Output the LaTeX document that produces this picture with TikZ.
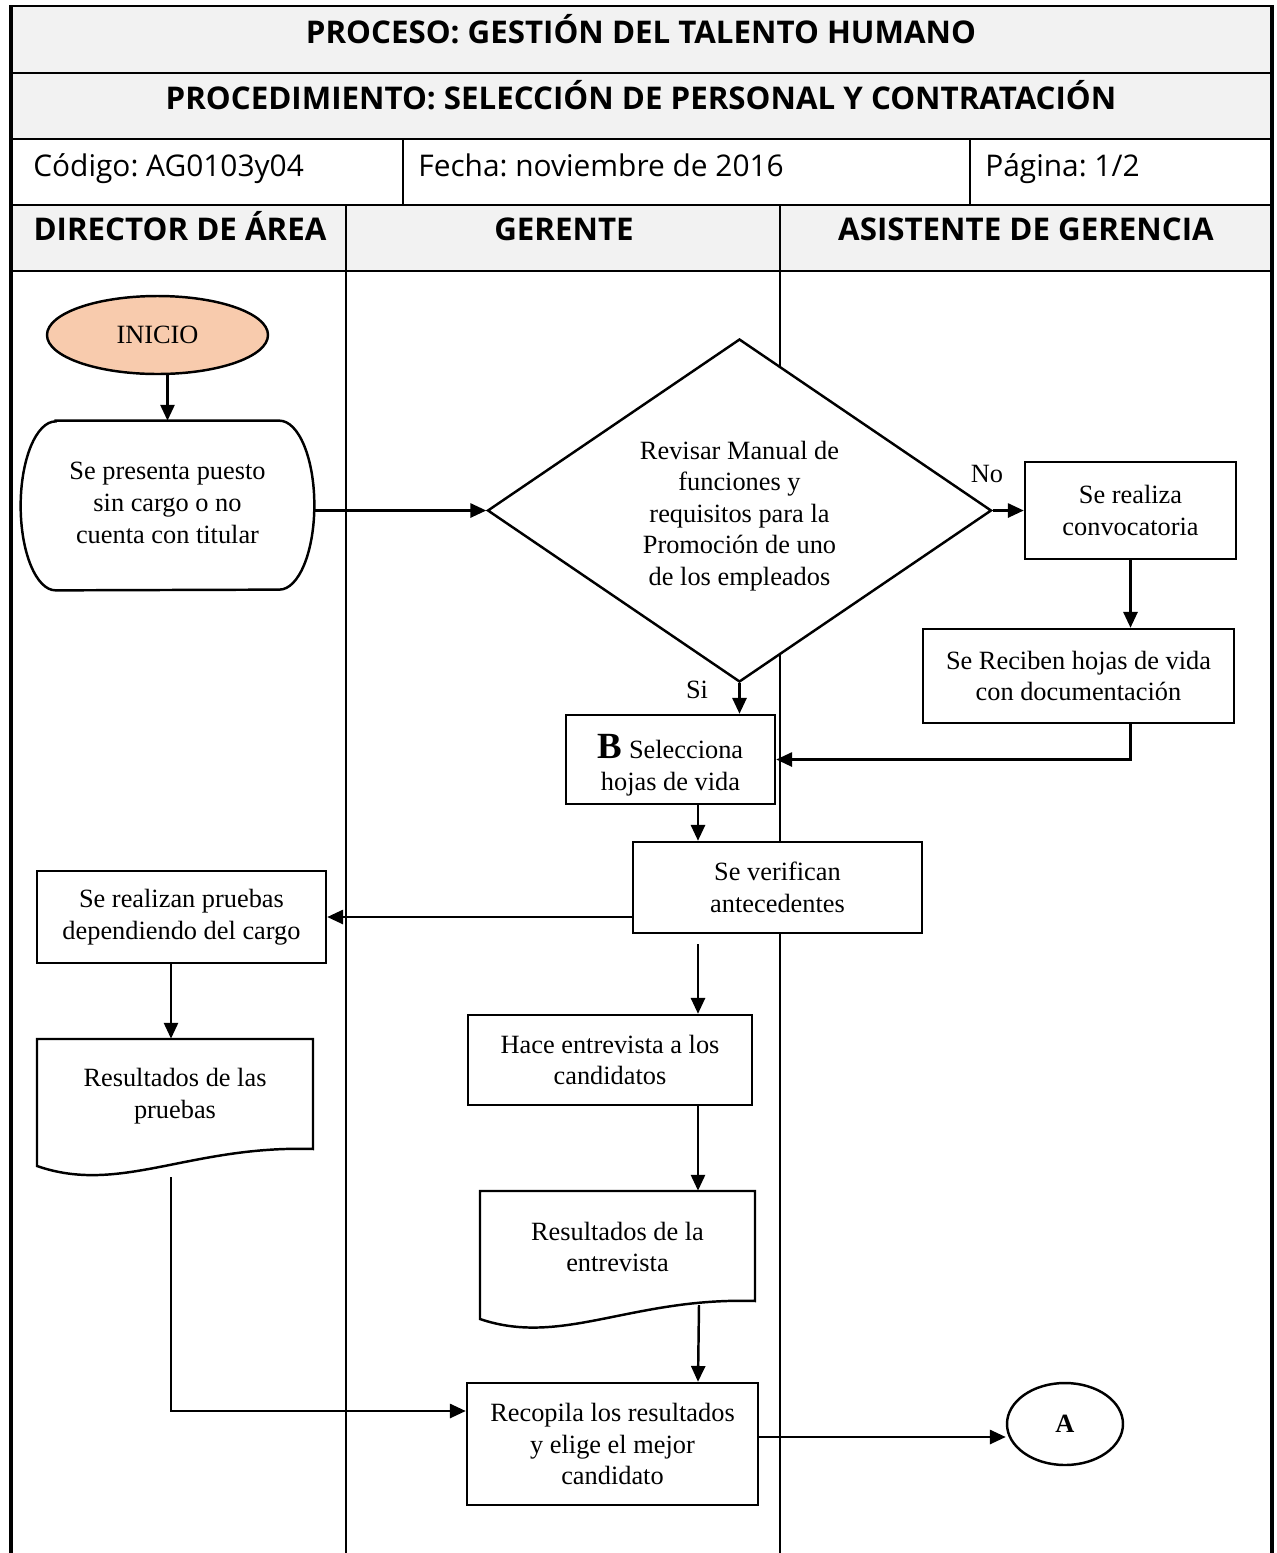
\documentclass[tikz,border=0pt]{standalone}
\usepackage{fontspec}
\setmainfont{Liberation Serif}
\newfontfamily\hdrfont{Open Sans}
\usetikzlibrary{shapes.geometric,arrows.meta,calc}
\definecolor{hdrgray}{HTML}{F2F2F2}
\definecolor{peach}{HTML}{F8CBAD}
\newcommand\pxl{0.02cm}
\frenchspacing

\begin{document}
\begin{tikzpicture}[x=0.02cm,y=-0.02cm,
  body/.style={font=\fontsize{15}{18}\selectfont, align=center},
  hdrb/.style={font=\hdrfont\bfseries\fontsize{17.8}{20}\selectfont, anchor=base, inner sep=0pt},
  hdrr/.style={font=\hdrfont\fontsize{17}{20}\selectfont, anchor=base west, inner sep=0pt},
  plain/.style={line width=1.4pt},
  proc/.style={draw, plain, fill=white, inner sep=0pt, body},
  flow/.style={plain, -{Triangle[length=9pt,width=8pt]}},
  lbl/.style={font=\fontsize{15}{18}\selectfont, inner sep=0pt},
]
\useasboundingbox (0,0) rectangle (1277,1553);

% ---- header block ----
\fill[hdrgray] (11,6) rectangle (1272,139);
\fill[hdrgray] (11,205) rectangle (1272,271);
\draw[line width=1.4pt] (11,6) -- (1272,6);
\foreach \yy in {73,139,205,271} \draw[line width=1.4pt] (11,\yy) -- (1272,\yy);
\draw[line width=1.2pt] (403,139) -- (403,205) (970,139) -- (970,205);
% swimlane dividers and outer frame
\draw[line width=1.4pt] (346,205) -- (346,1553) (780,205) -- (780,1553);
\draw[line width=2.3pt] (11,5) -- (11,1553) (1272,5) -- (1272,1553);

\node[hdrb] (tproc) at (641,43.5) {PROCESO: GESTIÓN DEL TALENTO HUMANO};
\node[hdrb] (tproced) at (641,109.5) {PROCEDIMIENTO: SELECCIÓN DE PERSONAL Y CONTRATACIÓN};
\node[hdrr] (cod) at (33,176.5) {Código: AG0103y04};
\node[hdrr] (fec) at (418,176.5) {Fecha: noviembre de 2016};
\node[hdrr] (pag) at (985,176.5) {Página: 1/2};
\node[hdrb] (lane1) at (180,240.5) {DIRECTOR DE ÁREA};
\node[hdrb] (lane2) at (564,240.5) {GERENTE};
\node[hdrb] (lane3) at (1026,240.5) {ASISTENTE DE GERENCIA};

% ---- flow nodes ----
\node[ellipse, draw, plain, fill=peach, minimum width=221*\pxl, minimum height=78*\pxl,
      inner sep=0pt, body] (ini) at (157.5,335) {INICIO};

\node[inner sep=0pt, minimum width=293*\pxl, minimum height=169*\pxl] (pres) at (167.5,505.5) {};
\draw[plain, fill=white] ($(pres.north west)+(35,0)$) -- ($(pres.north east)+(-35,0)$)
  arc[start angle=90, end angle=-90, x radius=0.7cm, y radius=1.69cm]
  -- ($(pres.south west)+(35,0)$)
  arc[start angle=270, end angle=90, x radius=0.7cm, y radius=1.69cm] -- cycle;
\node[body] (prestxt) at (167.5,503)
  {Se presenta puesto\\sin cargo o no\\cuenta con titular};

\node[diamond, draw, plain, fill=white, minimum width=504*\pxl, minimum height=343*\pxl,
      inner sep=0pt] (dec) at (739.5,510.5) {};
\node[body] (dectxt) at (739.5,516)
  {Revisar Manual de\\funciones y\\requisitos para la\\Promoción de uno\\de los empleados};

\node[proc, minimum width=211*\pxl, minimum height=97*\pxl] (conv) at (1130.5,510.5)
  {Se realiza\\convocatoria};
\node[proc, minimum width=311*\pxl, minimum height=94*\pxl] (rec) at (1078.5,676)
  {Se Reciben hojas de vida\\con documentación};
\node[proc, minimum width=209*\pxl, minimum height=89*\pxl] (bsel) at (670.5,759.5) {};
\node[body, inner sep=0pt] (bseltxt) at (670.5,765)
  {{\fontsize{21}{18}\selectfont\bfseries B} Selecciona\\hojas de vida};
\node[proc, minimum width=289*\pxl, minimum height=91*\pxl] (verif) at (777.5,887.5)
  {Se verifican\\antecedentes};
\node[proc, minimum width=289*\pxl, minimum height=92*\pxl] (prue) at (181.5,917)
  {Se realizan pruebas\\dependiendo del cargo};

% document shapes
\node[inner sep=0pt, minimum width=276*\pxl, minimum height=138*\pxl] (doc1) at (175,1108) {};
\draw[plain, fill=white] (37,1039) -- (313,1039) -- (313,1149)
  .. controls (190,1145) and (120,1195) .. (37,1166) -- cycle;
\node[body] (doc1txt) at (175,1096) {Resultados de las\\pruebas};

\node[proc, minimum width=284*\pxl, minimum height=90*\pxl] (hace) at (610,1060)
  {Hace entrevista a los\\candidatos};

\node[inner sep=0pt, minimum width=275*\pxl, minimum height=136*\pxl] (doc2) at (617.5,1259) {};
\draw[plain, fill=white] (480,1191) -- (755,1191) -- (755,1301)
  .. controls (632,1297) and (562,1347) .. (480,1319) -- cycle;
\node[body] (doc2txt) at (617.5,1247) {Resultados de la\\entrevista};

\node[proc, minimum width=291*\pxl, minimum height=122*\pxl] (recop) at (612.5,1444)
  {Recopila los resultados\\y elige el mejor\\candidato};

\node[ellipse, draw, plain, fill=white, minimum width=116*\pxl, minimum height=82*\pxl,
      inner sep=0pt, font=\fontsize{15}{18}\selectfont\bfseries] (conA) at (1065,1424) {A};

% ---- connectors ----
\coordinate (col1) at (171,0);
\coordinate (colx) at (698,0);
\coordinate (recin) at ($(recop.west)+(0,-33)$);
\coordinate (d2out) at (699,1305);
\coordinate (recout) at ($(recop.east)+(0,-7)$);

\draw[flow] (ini.south -| pres.north) -- (pres.north);
\draw[flow] (pres.east |- dec.west) -- (dec.west);
\draw[flow] (dec.east) -- (conv.west);
\node[lbl] (nolbl) at (987,474) {No};
\draw[flow] (conv.south) -- (conv.south |- rec.north);
\draw[flow] (conv.south |- rec.south) -- (conv.south |- bsel.east) -- (bsel.east);
\draw[flow] (dec.south) -- (dec.south |- bsel.north);
\node[lbl] (silbl) at (697,690) {Si};
\draw[flow] (bsel.south -| colx) -- (colx |- verif.north);
\draw[flow] (verif.west |- prue.east) -- (prue.east);
\draw[flow] (prue.south -| col1) -- (col1 |- doc1.north);
\draw[flow] (doc1.south -| col1) -- (col1 |- recin) -- (recin);
\draw[flow, shorten <=0.2cm] (verif.south -| colx) -- (colx |- hace.north);
\draw[flow] (hace.south -| colx) -- (colx |- doc2.north);
\draw[flow] (d2out) -- (colx |- recop.north);
\draw[flow] (recout) -- (recout -| conA.west);
\end{tikzpicture}
\end{document}
